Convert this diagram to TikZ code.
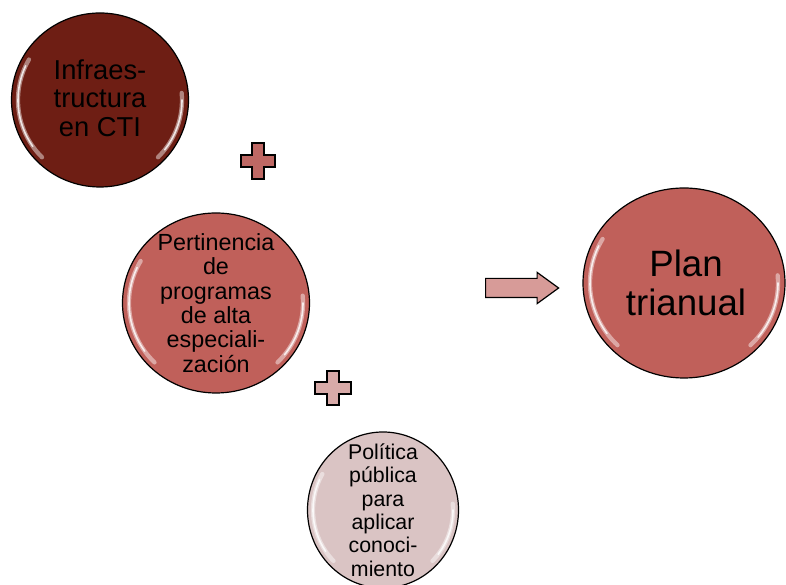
\documentclass[tikz,border=0pt]{standalone}
\usepackage{fontspec}
\setmainfont{Liberation Sans}
\usetikzlibrary{shapes.arrows}

\definecolor{darkbubble}{RGB}{110,30,20}
\definecolor{midbubble}{RGB}{192,96,90}
\definecolor{palebubble}{RGB}{218,196,196}
\definecolor{darkplus}{RGB}{190,104,100}
\definecolor{paleplus}{RGB}{216,170,168}
\definecolor{arrowfill}{RGB}{215,155,152}

\tikzset{
  bubble/.style={draw=black, line width=0.9pt},
  shine/.style={white, opacity=0.45, line width=3.2pt, line cap=round},
  glint/.style={white, opacity=0.8, line width=1.2pt, line cap=round},
  plusmark/.style={draw=black, line width=1.8pt, line join=miter},
  bubbletext/.style={align=center, inner sep=0pt, text=black}
}

\begin{document}
\begin{tikzpicture}[x=0.75pt, y=0.75pt]
    \useasboundingbox (0,0) rectangle (786,585);

    % bubbles
    \draw [bubble, fill=darkbubble] (100,485) ellipse [x radius=88.5, y radius=87];
    \draw [shine] (100,485) ++(150:82 and 81) arc [start angle=150, end angle=225, x radius=82, y radius=81];
    \draw [glint] (100,485) ++(155:82 and 81) arc [start angle=155, end angle=215, x radius=82, y radius=81];
    \draw [shine] (100,485) ++(-45:82 and 81) arc [start angle=-45, end angle=5, x radius=82, y radius=81];
    \draw [glint] (100,485) ++(-38:82 and 81) arc [start angle=-38, end angle=0, x radius=82, y radius=81];

    \draw [bubble, fill=midbubble] (216,282) ellipse [x radius=93.5, y radius=90];
    \draw [shine] (216,282) ++(150:87 and 84) arc [start angle=150, end angle=225, x radius=87, y radius=84];
    \draw [glint] (216,282) ++(155:87 and 84) arc [start angle=155, end angle=215, x radius=87, y radius=84];
    \draw [shine] (216,282) ++(-45:87 and 84) arc [start angle=-45, end angle=5, x radius=87, y radius=84];
    \draw [glint] (216,282) ++(-38:87 and 84) arc [start angle=-38, end angle=0, x radius=87, y radius=84];

    \draw [bubble, fill=palebubble] (383,75) ellipse [x radius=75.5, y radius=78];
    \draw [shine] (383,75) ++(150:70 and 72) arc [start angle=150, end angle=225, x radius=70, y radius=72];
    \draw [glint] (383,75) ++(155:70 and 72) arc [start angle=155, end angle=215, x radius=70, y radius=72];
    \draw [shine] (383,75) ++(-45:70 and 72) arc [start angle=-45, end angle=5, x radius=70, y radius=72];
    \draw [glint] (383,75) ++(-38:70 and 72) arc [start angle=-38, end angle=0, x radius=70, y radius=72];

    \draw [bubble, fill=midbubble] (684,302) ellipse [x radius=101, y radius=95];
    \draw [shine] (684,302) ++(150:94 and 88) arc [start angle=150, end angle=225, x radius=94, y radius=88];
    \draw [glint] (684,302) ++(155:94 and 88) arc [start angle=155, end angle=215, x radius=94, y radius=88];
    \draw [shine] (684,302) ++(-45:94 and 88) arc [start angle=-45, end angle=5, x radius=94, y radius=88];
    \draw [glint] (684,302) ++(-38:94 and 88) arc [start angle=-38, end angle=0, x radius=94, y radius=88];

    % texts
    \node [bubbletext, font=\fontsize{20.5}{21.4}\selectfont] (infra) at (100,487) {Infraes-\\tructura\\en CTI};
    \node [bubbletext, font=\fontsize{17.5}{18.3}\selectfont] (pertinencia) at (216,282) {Pertinencia\\de\\programas\\de alta\\especiali-\\zación};
    \node [bubbletext, font=\fontsize{16}{17.5}\selectfont] (politica) at (383,75) {Política\\pública\\para\\aplicar\\conoci-\\miento};
    \node [bubbletext, font=\fontsize{27.5}{28.7}\selectfont] (plan) at (686,302) {Plan\\trianual};

    % plus signs
    \draw [plusmark, fill=darkplus] (258,424) ++(-6,18) -- ++(12,0) -- ++(0,-12) -- ++(11,0) -- ++(0,-12) -- ++(-11,0)
        -- ++(0,-12) -- ++(-12,0) -- ++(0,12) -- ++(-11,0) -- ++(0,12) -- ++(11,0) -- cycle;
    \draw [plusmark, fill=paleplus] (333,197) ++(-6,17) -- ++(12,0) -- ++(0,-11) -- ++(12,0) -- ++(0,-12) -- ++(-12,0)
        -- ++(0,-11) -- ++(-12,0) -- ++(0,11) -- ++(-12,0) -- ++(0,12) -- ++(12,0) -- cycle;

    % arrow
    \node [single arrow, draw=black, line width=0.9pt, fill=arrowfill, inner xsep=0pt, inner ysep=6.75pt,
           minimum height=54.75pt, minimum width=22.5pt, single arrow head extend=4.5pt,
           single arrow tip angle=72] (toplan) at (515.5,297) {};
\end{tikzpicture}
\end{document}
